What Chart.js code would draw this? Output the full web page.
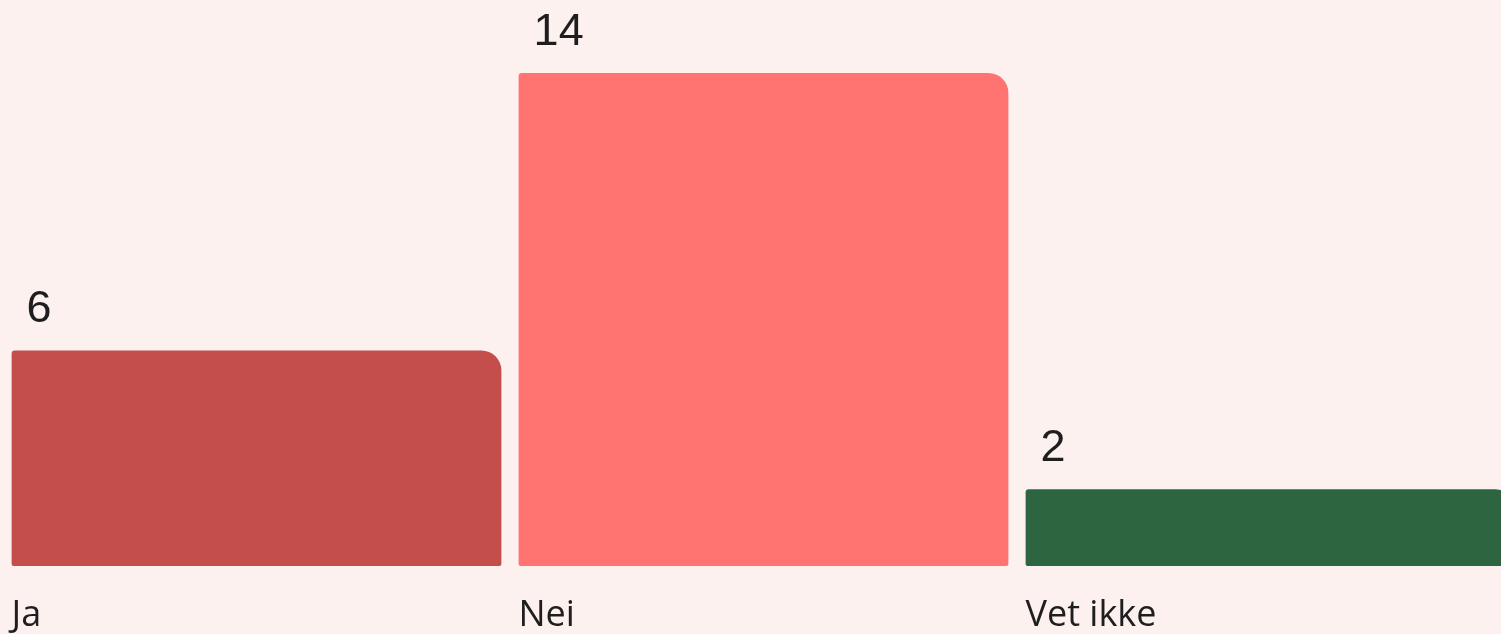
<!DOCTYPE html>
<html lang="no">
<head>
<meta charset="utf-8">
<title>Svar</title>
<script src="https://cdn.jsdelivr.net/npm/chart.js@4/dist/chart.umd.min.js"></script>
<style>
  html, body { margin: 0; padding: 0; background: #fdf1ef; overflow: hidden; }
  #wrap { position: relative; width: 1524px; height: 634px; }
</style>
</head>
<body>
<div id="wrap"><canvas id="chart"></canvas></div>
<script>
// Answers and counts
const categories = ['Ja', 'Nei', 'Vet ikke'];
const counts = [6, 14, 2];
const barColors = ['#c44e4b', '#ff7470', '#2e6541'];

// Bars start slightly below zero so that the lowest bar keeps a visible foot
const axisFloor = -0.216;

// Writes each count above the left part of its bar
const valueLabels = {
  id: 'valueLabels',
  afterDatasetsDraw(chart) {
    const { ctx } = chart;
    const meta = chart.getDatasetMeta(0);
    ctx.save();
    ctx.font = '45px "Liberation Sans", Arial, sans-serif';
    ctx.fillStyle = '#1e1e1e';
    ctx.textAlign = 'left';
    ctx.textBaseline = 'alphabetic';
    meta.data.forEach((bar, i) => {
      const left = bar.x - bar.width / 2;
      ctx.fillText(String(counts[i]), left + 15, bar.y - 28);
    });
    ctx.restore();
  }
};

new Chart(document.getElementById('chart'), {
  type: 'bar',
  data: {
    labels: categories,
    datasets: [{
      data: counts,
      base: axisFloor,
      backgroundColor: barColors,
      borderWidth: 0,
      borderSkipped: false,
      borderRadius: { topLeft: 3, topRight: 20, bottomLeft: 2, bottomRight: 2 },
      barPercentage: 0.966,
      categoryPercentage: 1
    }]
  },
  options: {
    responsive: true,
    maintainAspectRatio: false,
    animation: false,
    layout: { padding: { left: 3, right: 0, top: 73, bottom: 0 } },
    plugins: {
      legend: { display: false },
      tooltip: { enabled: false },
      title: { display: false }
    },
    scales: {
      x: {
        grid: { display: false, drawTicks: false },
        border: { display: false },
        ticks: {
          align: 'start',
          labelOffset: -245,
          padding: 28,
          maxRotation: 0,
          autoSkip: false,
          color: '#1e1e1e',
          font: { family: '"Open Sans", Lato, sans-serif', size: 36 }
        },
        afterFit(scale) { scale.height = 68; }
      },
      y: {
        display: false,
        min: axisFloor,
        max: 14,
        grid: { display: false }
      }
    }
  },
  plugins: [valueLabels]
});
</script>
</body>
</html>
